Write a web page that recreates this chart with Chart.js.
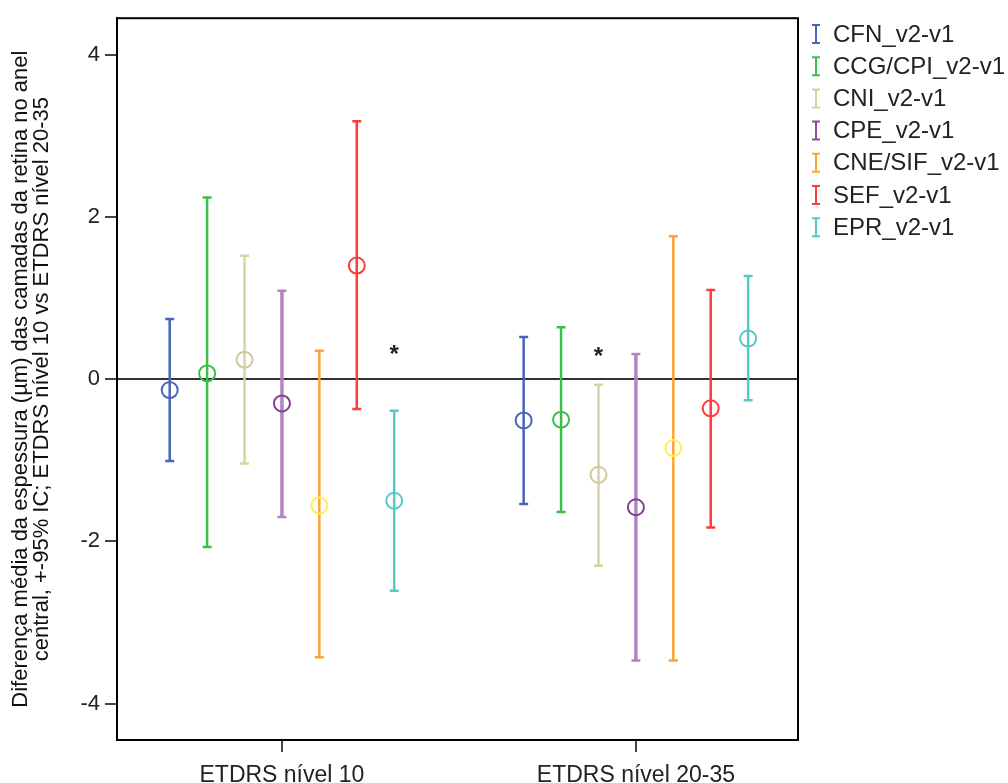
<!DOCTYPE html>
<html>
<head>
<meta charset="utf-8">
<script src="https://cdn.jsdelivr.net/npm/chart.js@4.4.1/dist/chart.umd.min.js"></script>
<style>
  body { margin: 0; background: #fff; }
  canvas { display: block; }
</style>
</head>
<body>
<canvas id="ci" width="1008" height="783"></canvas>
<script>
// groups on the x axis
const groups = ["ETDRS nível 10", "ETDRS nível 20-35"];
const seriesNames = ["CFN_v2-v1", "CCG/CPI_v2-v1", "CNI_v2-v1", "CPE_v2-v1", "CNE/SIF_v2-v1", "SEF_v2-v1", "EPR_v2-v1"];

// mean difference and 95% CI, one value per series
const meanNivel10  = [-0.135, 0.07, 0.24, -0.30, -1.56, 1.40, -1.50];
const lowerNivel10 = [-1.01, -2.07, -1.04, -1.70, -3.43, -0.37, -2.61];
const upperNivel10 = [0.74, 2.24, 1.52, 1.09, 0.35, 3.18, -0.39];

const meanNivel2035  = [-0.51, -0.50, -1.18, -1.58, -0.85, -0.36, 0.50];
const lowerNivel2035 = [-1.54, -1.64, -2.30, -3.47, -3.47, -1.83, -0.26];
const upperNivel2035 = [0.52, 0.64, -0.07, 0.31, 1.76, 1.10, 1.27];

const yTicks = [-4, -2, 0, 2, 4];

// asterisks: [group index, series index, y]
const sigMarks = [[0, 6, 0.35], [1, 2, 0.33]];

const barColors    = ["#4a64b8", "#3cbf4a", "#d8d3a3", "#b184c2", "#ffa330", "#ff3a3a", "#55c8c8"];
const markerColors = ["#4a64b8", "#3cbf4a", "#cfc99c", "#863a98", "#fff050", "#ff3a3a", "#55c8c8"];
const legendColors = ["#4a64b8", "#3cbf4a", "#d8d3a3", "#8f4a9f", "#ffa330", "#ff3a3a", "#55c8c8"];

const spread = 0.1057;
const FONT = "'Liberation Sans', Arial, sans-serif";

function xPos(g, i) {
   return (g + 1) + (i - 3) * spread;
}

const errorBars = {
   id: "errorBars",
   beforeDatasetsDraw(chart) {
      const c = chart.ctx;
      const xs = chart.scales.x, ys = chart.scales.y;
      const lows = [lowerNivel10, lowerNivel2035];
      const ups = [upperNivel10, upperNivel2035];
      c.save();
      for (let g = 0; g < 2; g++) {
         for (let i = 0; i < seriesNames.length; i++) {
            const x = xs.getPixelForValue(xPos(g, i));
            const y1 = ys.getPixelForValue(ups[g][i]);
            const y2 = ys.getPixelForValue(lows[g][i]);
            c.strokeStyle = barColors[i];
            c.lineWidth = i === 3 ? 3.5 : 2.5;
            c.beginPath();
            c.moveTo(x, y1); c.lineTo(x, y2);
            c.stroke();
            c.lineWidth = 2.5;
            c.beginPath();
            c.moveTo(x - 4.5, y1); c.lineTo(x + 4.5, y1);
            c.moveTo(x - 4.5, y2); c.lineTo(x + 4.5, y2);
            c.stroke();
         }
      }
      c.restore();
   },
   afterDraw(chart) {
      const c = chart.ctx;
      const a = chart.chartArea;
      const xs = chart.scales.x, ys = chart.scales.y;
      c.save();
      // frame
      c.strokeStyle = "#000";
      c.lineWidth = 2;
      c.strokeRect(a.left, a.top, a.right - a.left, a.bottom - a.top);

      // asterisks
      c.fillStyle = "#222";
      c.font = "bold 24px " + FONT;
      c.textAlign = "center";
      c.textBaseline = "middle";
      sigMarks.forEach(function (m) {
         c.fillText("*", xs.getPixelForValue(xPos(m[0], m[1])), ys.getPixelForValue(m[2]) + 5);
      });

      // legend
      c.font = "24px " + FONT;
      c.textAlign = "left";
      seriesNames.forEach(function (name, i) {
         const y = 34 + i * 32.2;
         const x = 816;
         c.strokeStyle = legendColors[i];
         c.lineWidth = 2;
         c.beginPath();
         c.moveTo(x, y - 9); c.lineTo(x, y + 9);
         c.moveTo(x - 4, y - 9); c.lineTo(x + 4, y - 9);
         c.moveTo(x - 4, y + 9); c.lineTo(x + 4, y + 9);
         c.stroke();
         c.fillStyle = "#222";
         c.fillText(name, 833, y + 1);
      });
      c.restore();
   }
};

const ctx = document.getElementById("ci").getContext("2d");
const ciChart = new Chart(ctx, {
   type: "scatter",
   data: {
      datasets: seriesNames.map(function (name, i) {
         return {
            label: name,
            data: [
               { x: xPos(0, i), y: meanNivel10[i] },
               { x: xPos(1, i), y: meanNivel2035[i] }
            ],
            pointRadius: 8,
            pointHoverRadius: 8,
            pointBorderWidth: 2,
            pointBorderColor: markerColors[i],
            pointBackgroundColor: "rgba(0,0,0,0)"
         };
      })
   },
   options: {
      responsive: false,
      animation: false,
      layout: { padding: { top: 14, right: 210, left: 0, bottom: 0 } },
      plugins: {
         legend: { display: false },
         tooltip: { enabled: false }
      },
      scales: {
         x: {
            type: "linear",
            min: 0.534,
            max: 2.458,
            afterBuildTicks: function (s) { s.ticks = [{ value: 1 }, { value: 2 }]; },
            afterFit: function (s) { s.height = 43; },
            ticks: {
               callback: function (v) { return groups[Math.round(v) - 1]; },
               font: { family: FONT, size: 23 },
               color: "#222",
               padding: 10,
               maxRotation: 0
            },
            grid: { drawOnChartArea: false, tickLength: 12, tickColor: "#444", lineWidth: 2 },
            border: { color: "#000", width: 2 }
         },
         y: {
            min: -4.45,
            max: 4.45,
            afterBuildTicks: function (s) { s.ticks = yTicks.map(function (v) { return { value: v }; }); },
            afterFit: function (s) { s.width = 117; },
            ticks: {
               font: { family: FONT, size: 22 },
               color: "#222",
               padding: 5
            },
            grid: {
               color: function (c) { return c.tick && c.tick.value === 0 ? "#333" : "rgba(0,0,0,0)"; },
               tickColor: "#444",
               tickLength: 12,
               lineWidth: 2
            },
            border: { color: "#000", width: 2 },
            title: {
               display: true,
               text: ["Diferença média da espessura (µm) das camadas da retina no anel",
                      "central, +-95% IC; ETDRS nível 10 vs ETDRS nível 20-35"],
               font: { family: FONT, size: 22, lineHeight: 0.93 },
               color: "#111",
               padding: { top: 11, bottom: 0 }
            }
         }
      }
   },
   plugins: [errorBars]
});
</script>
</body>
</html>
